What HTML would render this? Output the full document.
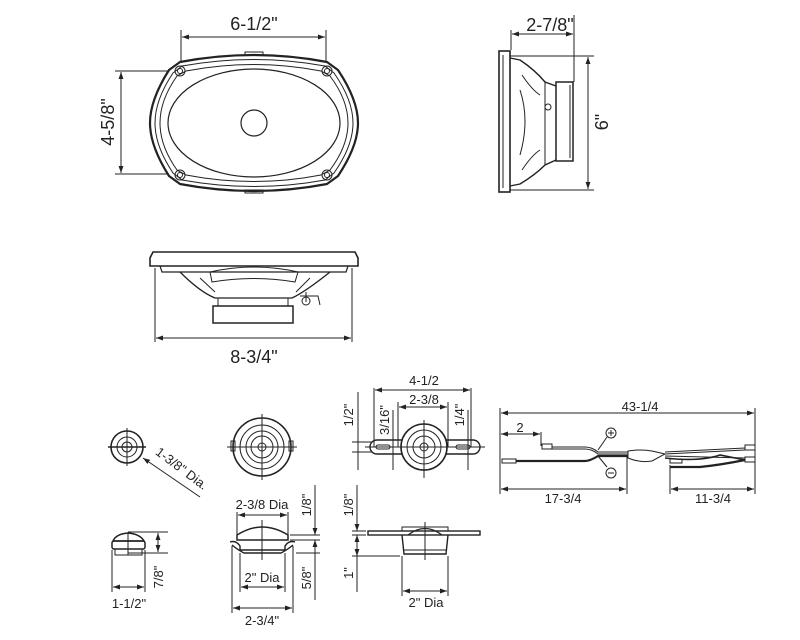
<!DOCTYPE html>
<html><head><meta charset="utf-8"><style>
html,body{margin:0;padding:0;background:#fff}
svg{display:block}
text{font-family:"Liberation Sans",sans-serif;fill:#222}
</style></head><body>
<svg width="800" height="640" viewBox="0 0 800 640" xmlns="http://www.w3.org/2000/svg">
<defs>
<marker id="a" viewBox="0 0 10 10" refX="10" refY="5" markerWidth="7" markerHeight="7" orient="auto-start-reverse"><path d="M0,1.5 L10,5 L0,8.5 z" fill="#222"/></marker>
</defs>
<g stroke="#222" fill="none" stroke-width="1">
<!-- top view -->
<line x1="181" y1="30" x2="181" y2="62"/><line x1="326" y1="30" x2="326" y2="62"/>
<line x1="182" y1="37" x2="325" y2="37" marker-start="url(#a)" marker-end="url(#a)"/>
<line x1="115" y1="71" x2="168" y2="71"/><line x1="115" y1="174" x2="168" y2="174"/>
<line x1="121" y1="72" x2="121" y2="173" marker-start="url(#a)" marker-end="url(#a)"/>
<path d="M180,62 Q254,48 327,62 L338,70 Q358,100 358,123 Q358,146 338,176 L327,184 Q254,198 180,184 L169,176 Q150,146 150,123 Q150,100 169,70 Z" stroke-width="2.2"/>
<path d="M182,66 Q254,53 325,66 L334,73 Q353,100 353,123 Q353,146 334,173 L325,180 Q254,193 182,180 L173,173 Q155,146 155,123 Q155,100 173,73 Z"/>
<path d="M186,71 Q254,58 321,71 L330,76 Q348,100 348,123 Q348,146 330,170 L321,175 Q254,188 186,175 L177,170 Q160,146 160,123 Q160,100 177,76 Z"/>
<ellipse cx="254" cy="123" rx="86" ry="54" stroke-width="1.2"/>
<circle cx="254" cy="123" r="13" stroke-width="1.2"/>
<circle cx="180" cy="71" r="5"/><circle cx="180" cy="71" r="2.5"/>
<circle cx="327" cy="71" r="5"/><circle cx="327" cy="71" r="2.5"/>
<circle cx="180" cy="175" r="5"/><circle cx="180" cy="175" r="2.5"/>
<circle cx="327" cy="175" r="5"/><circle cx="327" cy="175" r="2.5"/>
<rect x="245" y="52" width="18" height="3"/><rect x="245" y="190" width="18" height="3"/>
<!-- side view -->
<line x1="511" y1="30" x2="511" y2="50"/><line x1="574" y1="15" x2="574" y2="82"/>
<line x1="512" y1="34" x2="573" y2="34" marker-start="url(#a)" marker-end="url(#a)"/>
<line x1="510" y1="56" x2="594" y2="56"/><line x1="510" y1="190" x2="594" y2="190"/>
<line x1="588" y1="57" x2="588" y2="189" marker-start="url(#a)" marker-end="url(#a)"/>
<rect x="499" y="51" width="11" height="141" stroke-width="1.6"/>
<line x1="503" y1="55" x2="503" y2="188"/>
<path d="M510,58 L520,60 Q535,70 545,82 L556,86 M510,186 L520,184 Q535,175 545,165 L556,160" stroke-width="1.4"/>
<line x1="545" y1="82" x2="545" y2="165"/>
<rect x="556" y="82" width="17" height="79" stroke-width="1.5"/>
<line x1="570" y1="85" x2="570" y2="158"/>
<path d="M522,75 Q532,90 540,95 M522,170 Q532,155 540,150 M520,90 Q530,120 520,155"/>
<circle cx="548" cy="107" r="3"/>
<!-- front/bottom view -->
<path d="M153,252 L355,252 L358,258 L358,266 L150,266 L150,258 Z" stroke-width="1.6"/>
<path d="M160,266 L162,272 L346,272 L348,266" stroke-width="1.2"/>
<path d="M180,272 Q200,292 215,298 L292,298 Q305,292 330,272" stroke-width="1.3"/>
<path d="M210,272 Q254,262 298,272 L295,282 Q254,275 212,282 Z"/>
<path d="M200,278 L215,292 M310,278 L296,292"/>
<rect x="213" y="306" width="80" height="17" stroke-width="1.5"/>
<line x1="218" y1="298" x2="218" y2="306"/><line x1="288" y1="298" x2="288" y2="306"/>
<path d="M300,296 L318,296 L320,305 M306,292 L306,302"/><circle cx="306" cy="301" r="4"/>
<line x1="155" y1="268" x2="155" y2="342"/><line x1="352" y1="268" x2="352" y2="342"/>
<line x1="156" y1="338" x2="351" y2="338" marker-start="url(#a)" marker-end="url(#a)"/>
<!-- small tweeter top -->
<circle cx="127" cy="447" r="16" stroke-width="1.6"/><circle cx="127" cy="447" r="10"/><circle cx="127" cy="447" r="5"/>
<line x1="108" y1="447" x2="146" y2="447" stroke-width="1.6"/><line x1="127" y1="428" x2="127" y2="466"/>
<line x1="200" y1="497" x2="143" y2="458" marker-end="url(#a)"/>
<!-- middle tweeter top -->
<circle cx="262" cy="447" r="29" stroke-width="1.6"/><circle cx="262" cy="447" r="22"/><circle cx="262" cy="447" r="16"/><circle cx="262" cy="447" r="11"/><circle cx="262" cy="447" r="4"/>
<rect x="231" y="441" width="4" height="10"/><rect x="289" y="441" width="4" height="10"/>
<line x1="227" y1="447" x2="297" y2="447"/><line x1="262" y1="414" x2="262" y2="480"/>
<!-- right bracket top -->
<line x1="374" y1="388" x2="374" y2="447"/><line x1="471" y1="388" x2="471" y2="447"/>
<line x1="375" y1="390" x2="470" y2="390" marker-start="url(#a)" marker-end="url(#a)"/>
<line x1="398" y1="402" x2="398" y2="447"/><line x1="448" y1="402" x2="448" y2="447"/>
<line x1="399" y1="407" x2="447" y2="407" marker-start="url(#a)" marker-end="url(#a)"/>
<line x1="352" y1="442" x2="372" y2="442"/><line x1="352" y1="452" x2="372" y2="452"/>
<line x1="358" y1="392" x2="358" y2="470"/>
<line x1="393" y1="410" x2="393" y2="470"/><line x1="468" y1="410" x2="468" y2="470"/>
<path d="M377,440 L402,440 M446,440 L473,440 A7,7 0 0 1 473,454 L446,454 M402,454 L377,454 A7,7 0 0 1 377,440" stroke-width="1.4"/>
<rect x="376" y="445" width="14" height="4" rx="2"/><rect x="456" y="445" width="14" height="4" rx="2"/>
<circle cx="424" cy="447" r="23" stroke-width="1.6"/><circle cx="424" cy="447" r="17"/><circle cx="424" cy="447" r="11"/><circle cx="424" cy="447" r="4"/>
<line x1="424" y1="420" x2="424" y2="478"/><line x1="365" y1="447" x2="485" y2="447"/>
<!-- wiring -->
<line x1="500" y1="408" x2="500" y2="494"/><line x1="755" y1="408" x2="755" y2="494"/>
<line x1="501" y1="413" x2="754" y2="413" marker-start="url(#a)" marker-end="url(#a)"/>
<line x1="541" y1="432" x2="541" y2="446"/>
<line x1="501" y1="434" x2="540" y2="434" marker-start="url(#a)" marker-end="url(#a)"/>
<line x1="627" y1="455" x2="627" y2="494"/><line x1="670" y1="465" x2="670" y2="494"/>
<line x1="501" y1="489" x2="626" y2="489" marker-start="url(#a)" marker-end="url(#a)"/>
<line x1="671" y1="489" x2="754" y2="489" marker-start="url(#a)" marker-end="url(#a)"/>
<rect x="542" y="444" width="10" height="5"/>
<path d="M552,447 L585,447 Q592,447 598,452 L628,452 M552,449 L585,449 Q592,449 598,454 L628,454"/>
<rect x="502" y="459" width="14" height="4"/>
<path d="M516,461 L585,461 Q590,461 598,456 L628,456" stroke-width="2.2"/>
<path d="M628,451 Q640,449 652,451 L665,454 L652,461 Q640,463 628,458 Z"/>
<path d="M665,452 L745,448 M665,454 L745,450 M665,456 L745,458" />
<path d="M665,458 Q700,462 720,455 L745,460" stroke-width="1.6"/>
<rect x="745" y="445" width="10" height="5"/><rect x="745" y="457" width="10" height="5"/>
<rect x="670" y="459" width="12" height="4"/>
<path d="M670,467 L700,467 Q720,465 745,460" stroke-width="2.2"/>
<path d="M598,450 L607,437 M598,456 L607,467"/>
<circle cx="611" cy="433" r="5"/><circle cx="611" cy="473" r="5"/>
<path d="M608,433 L614,433 M611,430 L611,436 M608,473 L614,473"/>
<!-- small tweeter side -->
<path d="M113,541 Q116,534 128,533 Q140,534 144,541 Z" stroke-width="1.5"/>
<rect x="112" y="541" width="33" height="8" rx="2" stroke-width="1.5"/>
<rect x="115" y="549" width="27" height="6"/>
<line x1="128" y1="533" x2="128" y2="555"/>
<line x1="112" y1="550" x2="112" y2="592"/><line x1="145" y1="550" x2="145" y2="592"/>
<line x1="113" y1="587" x2="144" y2="587" marker-start="url(#a)" marker-end="url(#a)"/>
<line x1="128" y1="532" x2="168" y2="532"/><line x1="128" y1="553" x2="168" y2="553"/>
<line x1="158" y1="533" x2="158" y2="552" marker-start="url(#a)" marker-end="url(#a)"/>
<!-- middle side -->
<line x1="237" y1="512" x2="237" y2="535"/><line x1="288" y1="512" x2="288" y2="535"/>
<line x1="238" y1="515" x2="287" y2="515" marker-start="url(#a)" marker-end="url(#a)"/>
<path d="M237,535 Q250,527 262,527 Q275,527 288,535 L288,540 L237,540 Z" stroke-width="1.5"/>
<path d="M230,542 Q236,540 240,546 L240,550 L285,550 L285,546 Q289,540 295,542 M232,545 Q238,550 244,553 L281,553 Q287,550 293,545" stroke-width="1.4"/>
<line x1="262" y1="520" x2="262" y2="560"/>
<line x1="240" y1="553" x2="240" y2="592"/><line x1="285" y1="553" x2="285" y2="592"/>
<line x1="241" y1="587" x2="284" y2="587" marker-start="url(#a)" marker-end="url(#a)"/>
<line x1="232" y1="546" x2="232" y2="613"/><line x1="293" y1="546" x2="293" y2="613"/>
<line x1="233" y1="608" x2="292" y2="608" marker-start="url(#a)" marker-end="url(#a)"/>
<line x1="290" y1="535" x2="320" y2="535"/><line x1="290" y1="540" x2="320" y2="540"/><line x1="296" y1="553" x2="320" y2="553"/>
<line x1="315" y1="485" x2="315" y2="535" marker-end="url(#a)"/>
<line x1="315" y1="540" x2="315" y2="600" marker-start="url(#a)"/>
<!-- right side -->
<rect x="368" y="531" width="112" height="4" stroke-width="1.4"/>
<path d="M402,535 L404,554 L446,554 L448,535" stroke-width="1.4"/>
<line x1="404" y1="550" x2="446" y2="550"/>
<path d="M408,535 Q425,522 442,535" stroke-width="1.3"/>
<path d="M402,531 L402,527 L448,527 L448,531" stroke-width="1"/>
<line x1="425" y1="522" x2="425" y2="560"/>
<line x1="352" y1="531" x2="366" y2="531"/><line x1="352" y1="535" x2="366" y2="535"/><line x1="352" y1="556" x2="400" y2="556"/>
<line x1="357" y1="485" x2="357" y2="531" marker-end="url(#a)"/>
<line x1="357" y1="535" x2="357" y2="556" marker-start="url(#a)" marker-end="url(#a)"/>
<line x1="357" y1="556" x2="357" y2="592"/>
<line x1="402" y1="556" x2="402" y2="596"/><line x1="448" y1="556" x2="448" y2="596"/>
<line x1="403" y1="591" x2="447" y2="591" marker-start="url(#a)" marker-end="url(#a)"/>
</g>
<g font-size="18" text-anchor="middle">
<text x="254" y="30">6-1/2"</text>
<text x="550" y="31">2-7/8"</text>
<text x="254" y="363">8-3/4"</text>
<text transform="translate(114,122) rotate(-90)">4-5/8"</text>
<text transform="translate(608,122) rotate(-90)">6"</text>
</g>
<g font-size="13" text-anchor="middle">
<text x="424" y="385">4-1/2</text>
<text x="424" y="404">2-3/8</text>
<text transform="translate(353,415) rotate(-90)">1/2"</text>
<text transform="translate(389,420) rotate(-90)">3/16"</text>
<text transform="translate(464,415) rotate(-90)">1/4"</text>
<text transform="translate(179,472) rotate(37)">1-3/8" Dia.</text>
<text x="640" y="411">43-1/4</text>
<text x="520" y="432">2</text>
<text x="563" y="503">17-3/4</text>
<text x="713" y="503">11-3/4</text>
<text x="129" y="608">1-1/2"</text>
<text transform="translate(163,577) rotate(-90)">7/8"</text>
<text x="262" y="509">2-3/8 Dia</text>
<text x="262" y="582">2" Dia</text>
<text x="262" y="625">2-3/4"</text>
<text transform="translate(311,505) rotate(-90)">1/8"</text>
<text transform="translate(311,578) rotate(-90)">5/8"</text>
<text transform="translate(353,505) rotate(-90)">1/8"</text>
<text transform="translate(353,573) rotate(-90)">1"</text>
<text x="426" y="607">2" Dia</text>
</g>
</svg>
</body></html>
